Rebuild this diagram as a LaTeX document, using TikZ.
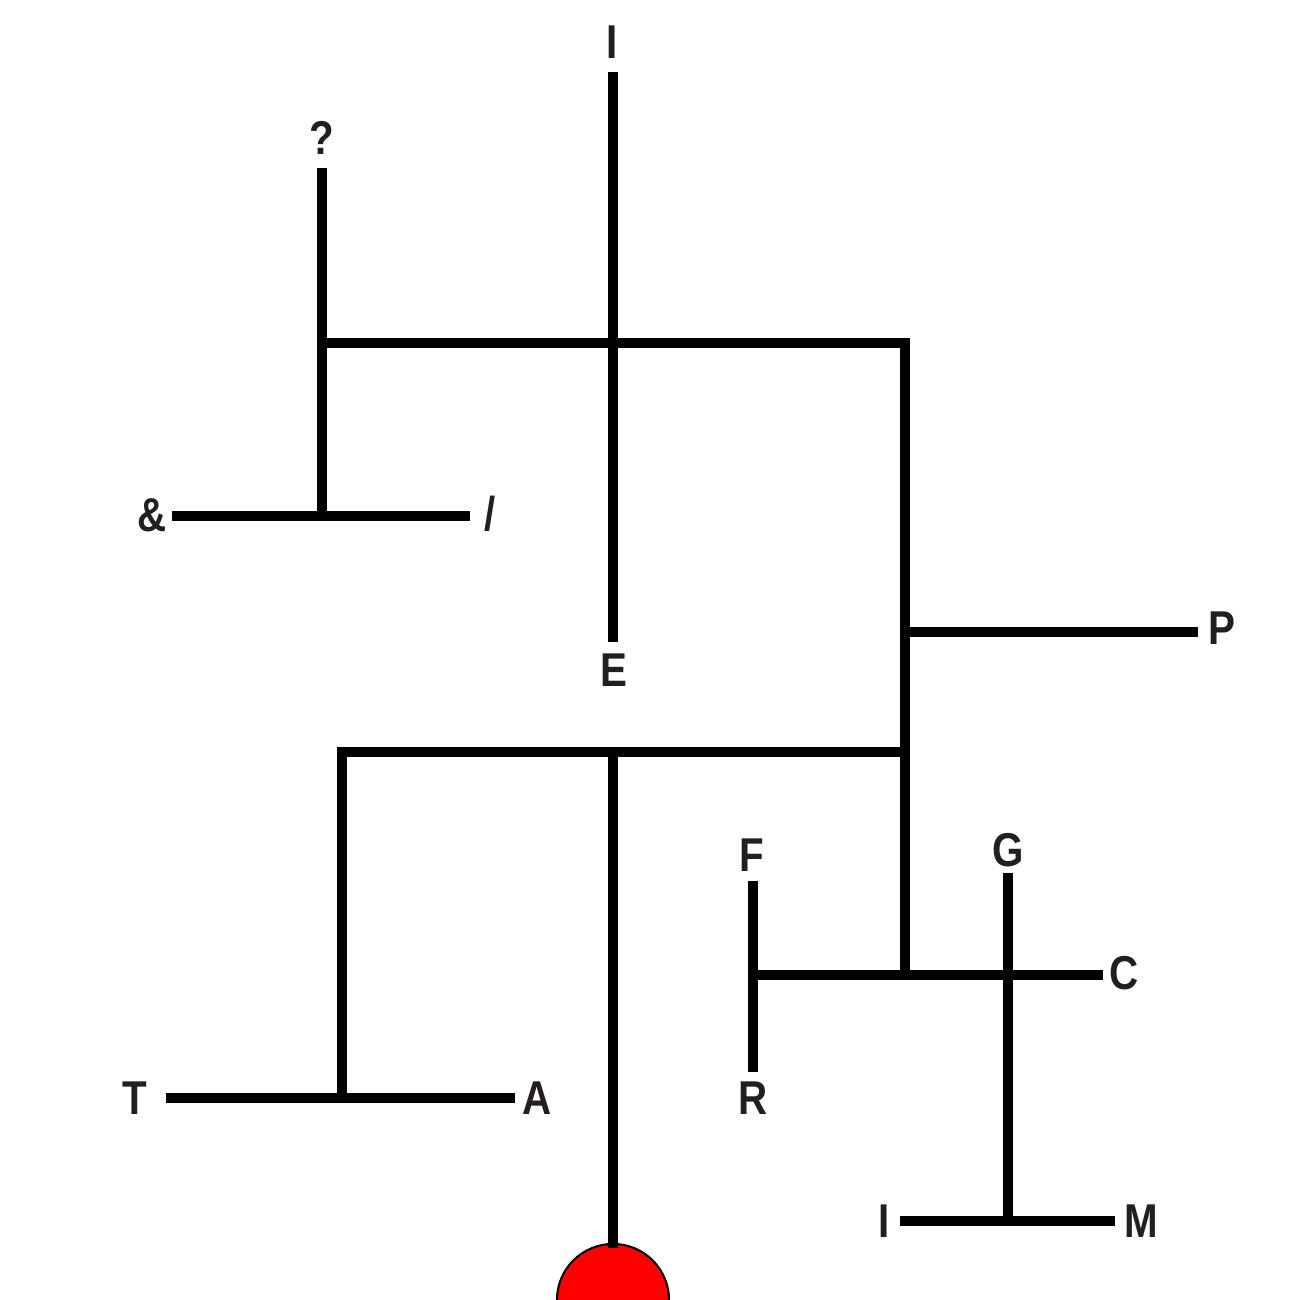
\documentclass[tikz,border=0pt]{standalone}
\usepackage{fontspec}
\setmainfont{Liberation Sans}
\usetikzlibrary{positioning}
\definecolor{labelgray}{HTML}{231F20}

\begin{document}
\begin{tikzpicture}[
  x=0.01cm, y=-0.01cm,
  font=\fontsize{13.5}{14}\selectfont\bfseries,
  lab/.style={text=labelgray, inner sep=0pt, anchor=center, xscale=0.85},
  wire/.style={line width=0.1cm, line cap=butt}
]
\useasboundingbox (0,0) rectangle (1300,1300);

% labels
\node[lab] (lI)  at (612,42)   {I};
\node[lab] (lQ)  at (322,138)  {?};
\node[lab] (lAmp) at (152,515) {\&};
\node[lab] (lSl) at (490,514)  {/};
\node[lab] (lE)  at (614,670)  {E};
\node[lab] (lP)  at (1222,628) {P};
\node[lab] (lT)  at (135,1098) {T};
\node[lab] (lA)  at (537,1098) {A};
\node[lab] (lF)  at (752,855)  {F};
\node[lab] (lR)  at (753,1098) {R};
\node[lab] (lG)  at (1008,850) {G};
\node[lab] (lC)  at (1124,973) {C};
\node[lab] (lI2) at (884,1221) {I};
\node[lab] (lM)  at (1141,1221) {M};

% line ends and junctions
\coordinate (eI)   at (613,72);
\coordinate (eE)   at (613,642);
\coordinate (eQ)   at (322,168);
\coordinate (jQ)   at (322,343);
\coordinate (jTop) at (613,343);
\coordinate (cTR)  at (905,343);
\coordinate (jAmp) at (322,516);
\coordinate (eAmp) at (172,516);
\coordinate (eSl)  at (470,516);
\coordinate (jP)   at (905,632);
\coordinate (eP)   at (1198,632);
\coordinate (jMid) at (905,752);
\coordinate (jRoot) at (613,752);
\coordinate (cML)  at (342,752);
\coordinate (jTA)  at (342,1098);
\coordinate (eT)   at (166,1098);
\coordinate (eA)   at (515,1098);
\coordinate (root) at (613,1248);
\coordinate (jLow) at (905,975);
\coordinate (jFR)  at (753,975);
\coordinate (jG)   at (1008,975);
\coordinate (eC)   at (1103,975);
\coordinate (eF)   at (753,881);
\coordinate (eR)   at (753,1072);
\coordinate (eG)   at (1008,873);
\coordinate (jIM)  at (1008,1221);
\coordinate (eI2)  at (900,1221);
\coordinate (eM)   at (1115,1221);

% red root
\fill[red] ([xshift=-0.56cm]613,1300) arc[start angle=180, end angle=0, radius=0.56cm] -- cycle;
\draw[line width=0.6pt] ([xshift=-0.56cm]613,1300) arc[start angle=180, end angle=0, radius=0.56cm];

% tree
\draw[wire] (eI) -- (eE);
\draw[wire] (eQ) -- (jAmp);
\draw[wire] (eAmp) -- (eSl);
\draw[wire] (jQ) -- (cTR) -- (jLow);
\draw[wire] (jP) -- (eP);
\draw[wire] (jMid) -- (cML) -- (jTA);
\draw[wire] (eT) -- (eA);
\draw[wire] (jRoot) -- (root);
\draw[wire] (jFR) -- (eC);
\draw[wire] (eF) -- (eR);
\draw[wire] (eG) -- (jIM);
\draw[wire] (eI2) -- (eM);
\end{tikzpicture}
\end{document}
